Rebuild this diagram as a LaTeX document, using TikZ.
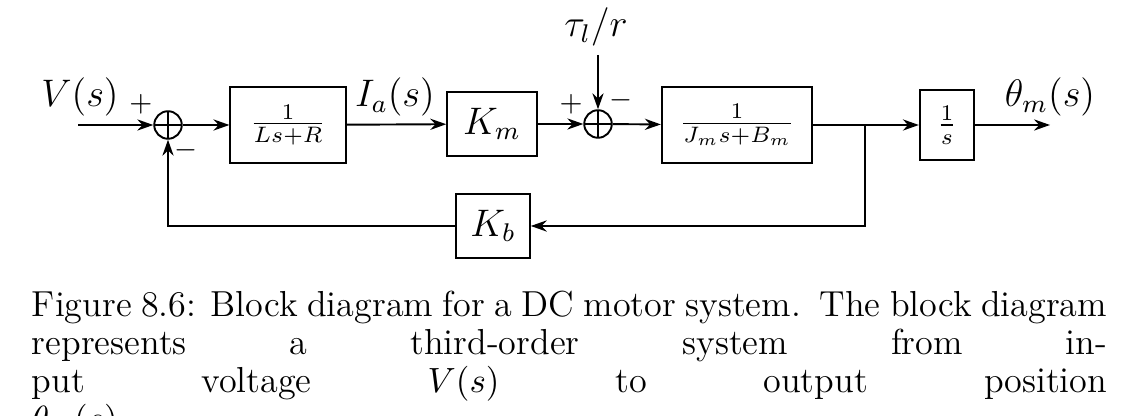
\documentclass[tikz,border=0pt]{standalone}
\usetikzlibrary{arrows.meta}
\tikzset{every picture/.style={line width=0.6pt}}
\tikzset{blk/.style={draw,inner sep=0pt,minimum width=#1},
  sumj/.style={draw,circle,minimum size=8.6pt,inner sep=0pt,path picture={\draw (path picture bounding box.north)--(path picture bounding box.south) (path picture bounding box.west)--(path picture bounding box.east);}},
  sig/.style={-{Stealth[length=5pt,width=3.5pt]}}}
\begin{document}
\begin{tikzpicture}[x=0.3125pt,y=0.3125pt,yscale=-1,xscale=1]
        \useasboundingbox (0,0) rectangle (1144,416);

        %Blocks
        \node [blk=36pt,minimum height=23.5pt] (g1) at (288,125) {$\frac{1}{Ls+R}$};
        \node [blk=28pt,minimum height=20pt] (km) at (492,124) {\large $K_m$};
        \node [blk=47pt,minimum height=23.5pt] (g2) at (737,125) {$\frac{1}{J_ms+B_m}$};
        \node [blk=17pt,minimum height=22pt] (int) at (947,125) {$\frac{1}{s}$};
        \node [blk=23pt,minimum height=20pt] (kb) at (493,226) {\large $K_b$};
        %Summing junctions
        \node [sumj] (s1) at (168,125) {};
        \node [sumj] (s2) at (598,124) {};
        %Terminals
        \coordinate (in) at (78,125);
        \coordinate (out) at (1050,125);
        \coordinate (dist) at (598,55);
        \coordinate (br) at (865,125);

        %Connectors
        \draw [sig] (in) -- (s1);
        \draw [sig] (s1) -- (g1);
        \draw [sig] (g1) -- (km);
        \draw [sig] (km) -- (s2);
        \draw [sig] (dist) -- (s2);
        \draw [sig] (s2) -- (g2);
        \draw [sig] (g2) -- (int);
        \draw [sig] (int) -- (out);
        \draw [sig] (br) |- (kb);
        \draw [sig] (kb) -| (s1);

        % Text Node
        \node (lv) at (80,97) {\large $V(s)$};
        \node (lia) at (395,97) {\large $I_a(s)$};
        \node (lth) at (1050,97) {\large $\theta_m(s)$};
        \node (ltau) at (596,27) {\large $\tau_l/r$};
        \node (p1) at (141,104) {\small $+$};
        \node (m1) at (186,150) {\small $-$};
        \node (p2) at (571,104) {\small $+$};
        \node (m2) at (621,100) {\small $-$};
        % Caption
        \node [anchor=north west,inner sep=0pt,text width=336pt,align=justify,font=\fontsize{11.3}{11.9}\selectfont] (cap) at (31,290)
          {Figure 8.6: Block diagram for a DC motor system.\ \ The block diagram\linebreak represents a third-order system from input voltage $V(s)$ to output position\linebreak $\theta_m(s)$.};
\end{tikzpicture}
\end{document}
